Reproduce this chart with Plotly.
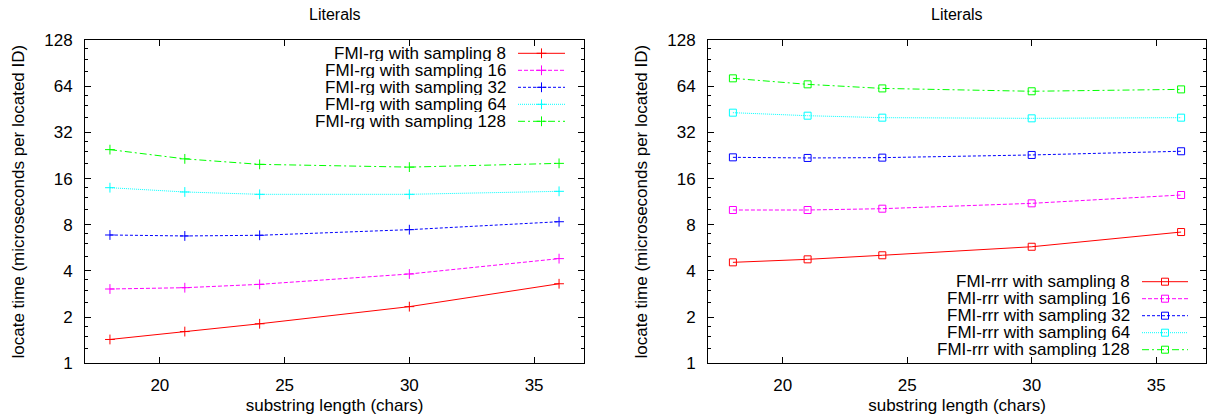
import plotly.graph_objects as go

# ---------------- data ----------------
lengths = [18, 21, 24, 30, 36]
samplings = [8, 16, 32, 64, 128]

rg_s8 = [1.43, 1.61, 1.81, 2.34, 3.30]
rg_s16 = [3.05, 3.11, 3.27, 3.82, 4.81]
rg_s32 = [6.86, 6.76, 6.83, 7.43, 8.37]
rg_s64 = [13.95, 13.08, 12.63, 12.63, 13.21]
rg_s128 = [24.7, 21.5, 19.8, 19.0, 20.1]

rrr_s8 = [4.55, 4.76, 5.06, 5.75, 7.17]
rrr_s16 = [9.98, 9.98, 10.18, 11.03, 12.50]
rrr_s32 = [22.0, 21.8, 21.9, 22.8, 24.1]
rrr_s64 = [43.0, 41.1, 39.9, 39.5, 39.9]
rrr_s128 = [72.0, 65.8, 61.9, 59.3, 61.0]

y_ticks = [1, 2, 4, 8, 16, 32, 64, 128]
x_ticks = [20, 25, 30, 35]
panel_titles = ["Literals", "Literals"]
x_title = "substring length (chars)"
y_title = "locate time (microseconds per located ID)"

rg_series = [rg_s8, rg_s16, rg_s32, rg_s64, rg_s128]
rrr_series = [rrr_s8, rrr_s16, rrr_s32, rrr_s64, rrr_s128]

# ---------------- styles ----------------
W, H = 1207, 420
colors = ["#ff0000", "#ff00ff", "#0000ff", "#00ffff", "#00ff00"]
dashes = ["solid", "4px,2px", "3px,2px", "1px,1px", "7px,3px,2px,3px"]
FONT = "Liberation Sans, Arial, sans-serif"
FS = 17

left_px = (85, 584)
right_px = (708, 1206)
top_px, bot_px = 40, 363.3


def px2paper_x(p):
    return p / W


def px2paper_y(p):
    return 1 - p / H


fig = go.Figure()

# data traces
for i, s in enumerate(samplings):
    fig.add_trace(go.Scatter(
        x=lengths, y=rg_series[i], mode="lines+markers",
        name=f"FMI-rg with sampling {s}", showlegend=False,
        line=dict(color=colors[i], width=1, dash=dashes[i]),
        marker=dict(symbol="cross-thin-open", size=7, color=colors[i],
                    line=dict(color=colors[i], width=1)),
        xaxis="x", yaxis="y"))
for i, s in enumerate(samplings):
    fig.add_trace(go.Scatter(
        x=lengths, y=rrr_series[i], mode="lines+markers",
        name=f"FMI-rrr with sampling {s}", showlegend=False,
        line=dict(color=colors[i], width=1, dash=dashes[i]),
        marker=dict(symbol="square-open", size=7, color=colors[i],
                    line=dict(color=colors[i], width=1)),
        xaxis="x2", yaxis="y2"))

# custom gnuplot-style legends (text right-aligned, sample on the right) on a pixel overlay axis
legend_cfg = [
    ("FMI-rg with sampling", "cross-thin-open", 7, 53.3, 507, 518, 565),
    ("FMI-rrr with sampling", "square-open", 7, 281.7, 1131, 1142, 1188),
]
row_gap = [0, 17, 34, 51, 68]
annotations = []
for label, sym, msz, y0, txt_r, s0, s1 in legend_cfg:
    for i, s in enumerate(samplings):
        yy = y0 + row_gap[i]
        fig.add_trace(go.Scatter(
            x=[s0, s1], y=[yy, yy], mode="lines",
            line=dict(color=colors[i], width=1, dash=dashes[i]),
            showlegend=False, hoverinfo="skip", xaxis="x3", yaxis="y3"))
        fig.add_trace(go.Scatter(
            x=[(s0 + s1) / 2], y=[yy], mode="markers",
            marker=dict(symbol=sym, size=msz, color=colors[i],
                        line=dict(color=colors[i], width=1)),
            showlegend=False, hoverinfo="skip", xaxis="x3", yaxis="y3"))
        annotations.append(dict(
            text=f"{label} {s}", x=px2paper_x(txt_r), y=px2paper_y(yy),
            xref="paper", yref="paper", xanchor="right", yanchor="middle",
            height=15, borderpad=0,
            showarrow=False, font=dict(family=FONT, size=FS, color="black")))

# panel titles
for (l, r), t in zip([left_px, right_px], panel_titles):
    annotations.append(dict(
        text=t, x=px2paper_x((l + r) / 2), y=px2paper_y(15),
        xref="paper", yref="paper", xanchor="center", yanchor="middle",
        showarrow=False, font=dict(family=FONT, size=16, color="black")))

minor_vals = [2 ** n * f for n in range(7) for f in (1.25, 1.5, 1.75)]

common_x = dict(
    range=[17, 37], tickvals=x_ticks, ticktext=[str(v) for v in x_ticks],
    ticks="inside", ticklen=6, tickcolor="black", tickwidth=1,
    showline=True, linecolor="black", linewidth=1, mirror="ticks",
    showgrid=False, zeroline=False, ticklabelstandoff=6, automargin=False,
    tickfont=dict(family=FONT, size=FS, color="black"),
    title=dict(text=x_title, font=dict(family=FONT, size=FS, color="black"), standoff=5),
)
common_y = dict(
    type="log", range=[0, 2.10721], tickvals=y_ticks,
    ticktext=[str(v) for v in y_ticks],
    ticks="inside", ticklen=6, tickcolor="black", tickwidth=1,
    minor=dict(tickvals=minor_vals, ticks="inside", ticklen=3,
               tickcolor="black", tickwidth=1, showgrid=False),
    showline=True, linecolor="black", linewidth=1, mirror="ticks",
    showgrid=False, zeroline=False, ticklabelstandoff=8, automargin=False,
    tickfont=dict(family=FONT, size=FS, color="black"),
    title=dict(text=y_title, font=dict(family=FONT, size=FS, color="black"), standoff=15),
)

ydom = [px2paper_y(bot_px), px2paper_y(top_px)]
fig.update_layout(
    width=W, height=H,
    margin=dict(l=0, r=0, t=0, b=0),
    paper_bgcolor="white", plot_bgcolor="rgba(0,0,0,0)",
    showlegend=False,
    xaxis=dict(common_x, domain=[px2paper_x(left_px[0]), px2paper_x(left_px[1])], anchor="y"),
    yaxis=dict(common_y, domain=ydom, anchor="x"),
    xaxis2=dict(common_x, domain=[px2paper_x(right_px[0]), px2paper_x(right_px[1])], anchor="y2"),
    yaxis2=dict(common_y, domain=ydom, anchor="x2"),
    xaxis3=dict(domain=[0, 1], range=[0, W], visible=False, anchor="y3", fixedrange=True),
    yaxis3=dict(domain=[0, 1], range=[H, 0], visible=False, anchor="x3", fixedrange=True),
    annotations=annotations,
    font=dict(family=FONT, size=FS, color="black"),
)

fig.write_html("out.html")
